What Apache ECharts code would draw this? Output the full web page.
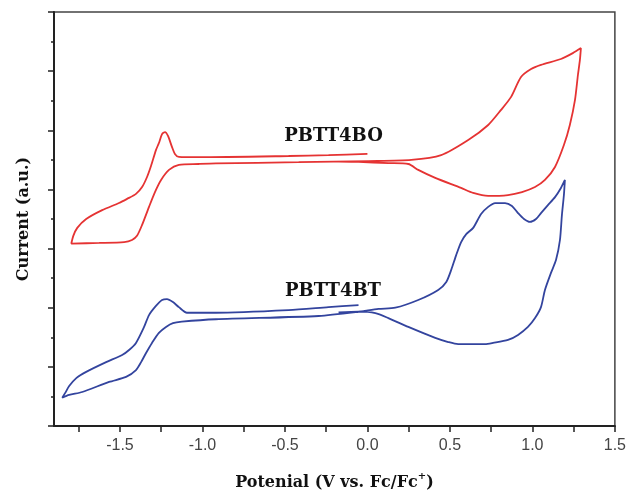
<!DOCTYPE html>
<html>
<head>
<meta charset="utf-8">
<script src="https://cdn.jsdelivr.net/npm/echarts@6/dist/echarts.min.js"></script>
<style>
html,body{margin:0;padding:0;background:#fff;}
#chart{width:629px;height:496px;}
</style>
</head>
<body>
<div id="chart"></div>
<script>
// X tick labels (potential, V vs Fc/Fc+)
var xTickLabels = [-1.5, -1.0, -0.5, 0.0, 0.5, 1.0, 1.5];
var xMinorTicks = [-1.75, -1.5, -1.25, -1.0, -0.75, -0.5, -0.25, 0.0, 0.25, 0.5, 0.75, 1.0, 1.25, 1.5];

// PBTT4BO (red) cyclic voltammogram, closed path: potential (V) and current (a.u.)
var pbtt4boV = [0.000,-0.236,-0.478,-1.022,-1.143,-1.167,-1.185,-1.209,-1.227,-1.245,-1.264,-1.282,-1.312,-1.336,-1.366,-1.403,-1.457,-1.506,-1.608,-1.705,-1.759,-1.783,-1.795,
  -1.626,-1.475,-1.427,-1.397,-1.366,-1.324,-1.288,-1.251,-1.203,-1.143,-1.022,-0.919,-0.417,0.006,0.266,0.447,0.611,0.732,0.810,0.871,0.931,0.992,1.052,1.173,1.245,1.294,
  1.288,1.276,1.258,1.227,1.191,1.137,1.076,1.016,0.937,0.852,0.732,0.641,0.568,0.411,0.308,0.248,0.127,-0.054,-0.175];
var pbtt4boI = [9.20,9.16,9.13,9.09,9.10,9.20,9.44,9.81,9.94,9.87,9.57,9.33,8.79,8.42,8.08,7.85,7.68,7.54,7.30,7.00,6.70,6.43,6.17,
  6.19,6.22,6.29,6.43,6.80,7.41,7.91,8.32,8.66,8.83,8.86,8.88,8.92,8.96,9.00,9.16,9.67,10.18,10.69,11.13,11.80,12.07,12.21,12.41,12.61,12.78,
  12.38,11.87,11.02,10.18,9.50,8.76,8.32,8.08,7.91,7.81,7.78,7.88,8.05,8.39,8.66,8.86,8.89,8.93,8.94];

// PBTT4BT (blue) cyclic voltammogram, closed path
var pbtt4btV = [-0.054,-0.236,-0.478,-0.919,-1.094,-1.143,-1.179,-1.215,-1.245,-1.282,-1.324,-1.354,-1.403,-1.445,-1.487,-1.584,-1.705,-1.765,-1.808,-1.832,-1.850,
  -1.808,-1.729,-1.566,-1.463,-1.403,-1.372,-1.342,-1.306,-1.264,-1.221,-1.179,-1.125,-0.919,-0.296,-0.054,0.067,0.169,0.308,0.429,0.478,0.508,0.538,0.568,0.599,0.641,0.689,0.732,0.774,0.834,0.876,0.913,0.949,0.985,1.022,1.052,1.094,1.137,1.173,1.197,
  1.191,1.179,1.167,1.143,1.112,1.076,1.052,1.016,0.973,0.913,0.852,0.762,0.713,0.550,0.490,0.411,0.248,0.127,0.048,-0.054,-0.175];
var pbtt4btI = [4.09,4.02,3.92,3.83,3.83,4.02,4.19,4.29,4.26,4.06,3.75,3.35,2.81,2.57,2.40,2.16,1.83,1.62,1.35,1.12,0.96,
  1.05,1.15,1.49,1.66,1.89,2.16,2.47,2.81,3.15,3.35,3.48,3.53,3.61,3.72,3.86,3.96,4.00,4.26,4.60,4.87,5.28,5.78,6.22,6.49,6.70,7.17,7.41,7.54,7.54,7.44,7.20,7.00,6.90,7.00,7.20,7.47,7.74,8.05,8.32,
  7.81,7.14,6.29,5.61,5.17,4.60,4.02,3.65,3.35,3.08,2.91,2.81,2.77,2.77,2.84,2.98,3.35,3.65,3.82,3.87,3.84];

var seriesNames = ['PBTT4BO', 'PBTT4BT'];

function zip(a, b) { return a.map(function (v, i) { return [v, b[i]]; }); }

var chart = echarts.init(document.getElementById('chart'), null, {renderer: 'canvas'});
var serif = '"DejaVu Serif", serif';
var sans = '"Liberation Sans", Arial, sans-serif';

chart.setOption({
  animation: false,
  backgroundColor: '#fff',
  grid: {left: 54, right: 12, top: 12, bottom: 70, show: true, borderColor: '#444', borderWidth: 1.5, backgroundColor: 'transparent'},
  xAxis: {
    type: 'value', min: -1.9, max: 1.5,
    name: 'Potenial (V vs. Fc/Fc{sup|+}{n|)}',
    nameLocation: 'middle', nameGap: 45,
    nameTextStyle: {fontFamily: serif, fontWeight: 'bold', fontSize: 16, color: '#111',
      rich: {
        sup: {fontFamily: serif, fontWeight: 'bold', fontSize: 10, color: '#111', padding: [0, 0, 14, 0]},
        n: {fontFamily: serif, fontWeight: 'bold', fontSize: 16, color: '#111'}
      }},
    axisLine: {show: true, onZero: false, lineStyle: {color: '#222', width: 2}},
    axisTick: {show: true, inside: false, length: 6, customValues: xMinorTicks, lineStyle: {color: '#222', width: 1.5}},
    axisLabel: {customValues: xTickLabels, margin: 12, fontFamily: sans, fontSize: 16, color: '#444',
      formatter: function (v) { return v.toFixed(1); }},
    splitLine: {show: false}
  },
  yAxis: {
    type: 'value', min: 0, max: 14, interval: 2,
    name: 'Current (a.u.)',
    nameLocation: 'middle', nameGap: 22,
    nameTextStyle: {fontFamily: serif, fontWeight: 'bold', fontSize: 16, color: '#111'},
    axisLine: {show: true, onZero: false, lineStyle: {color: '#222', width: 2}},
    axisTick: {show: true, inside: false, length: 6, lineStyle: {color: '#222', width: 1.5}},
    minorTick: {show: true, splitNumber: 2, length: 3, lineStyle: {color: '#222', width: 1.5}},
    axisLabel: {show: false},
    splitLine: {show: false},
    minorSplitLine: {show: false}
  },
  series: [
    {name: seriesNames[0], type: 'line', data: zip(pbtt4boV, pbtt4boI), showSymbol: false, symbol: 'none', smooth: 0.25,
      lineStyle: {color: '#e53333', width: 1.8}},
    {name: seriesNames[1], type: 'line', data: zip(pbtt4btV, pbtt4btI), showSymbol: false, symbol: 'none', smooth: 0.25,
      lineStyle: {color: '#33449e', width: 1.8}}
  ],
  graphic: [
    {type: 'text', x: 333.5, y: 136.5, style: {text: seriesNames[0], font: 'bold 18px ' + serif, fill: '#111', align: 'center', verticalAlign: 'middle'}},
    {type: 'text', x: 333, y: 291.5, style: {text: seriesNames[1], font: 'bold 18px ' + serif, fill: '#111', align: 'center', verticalAlign: 'middle'}}
  ]
});
</script>
</body>
</html>
